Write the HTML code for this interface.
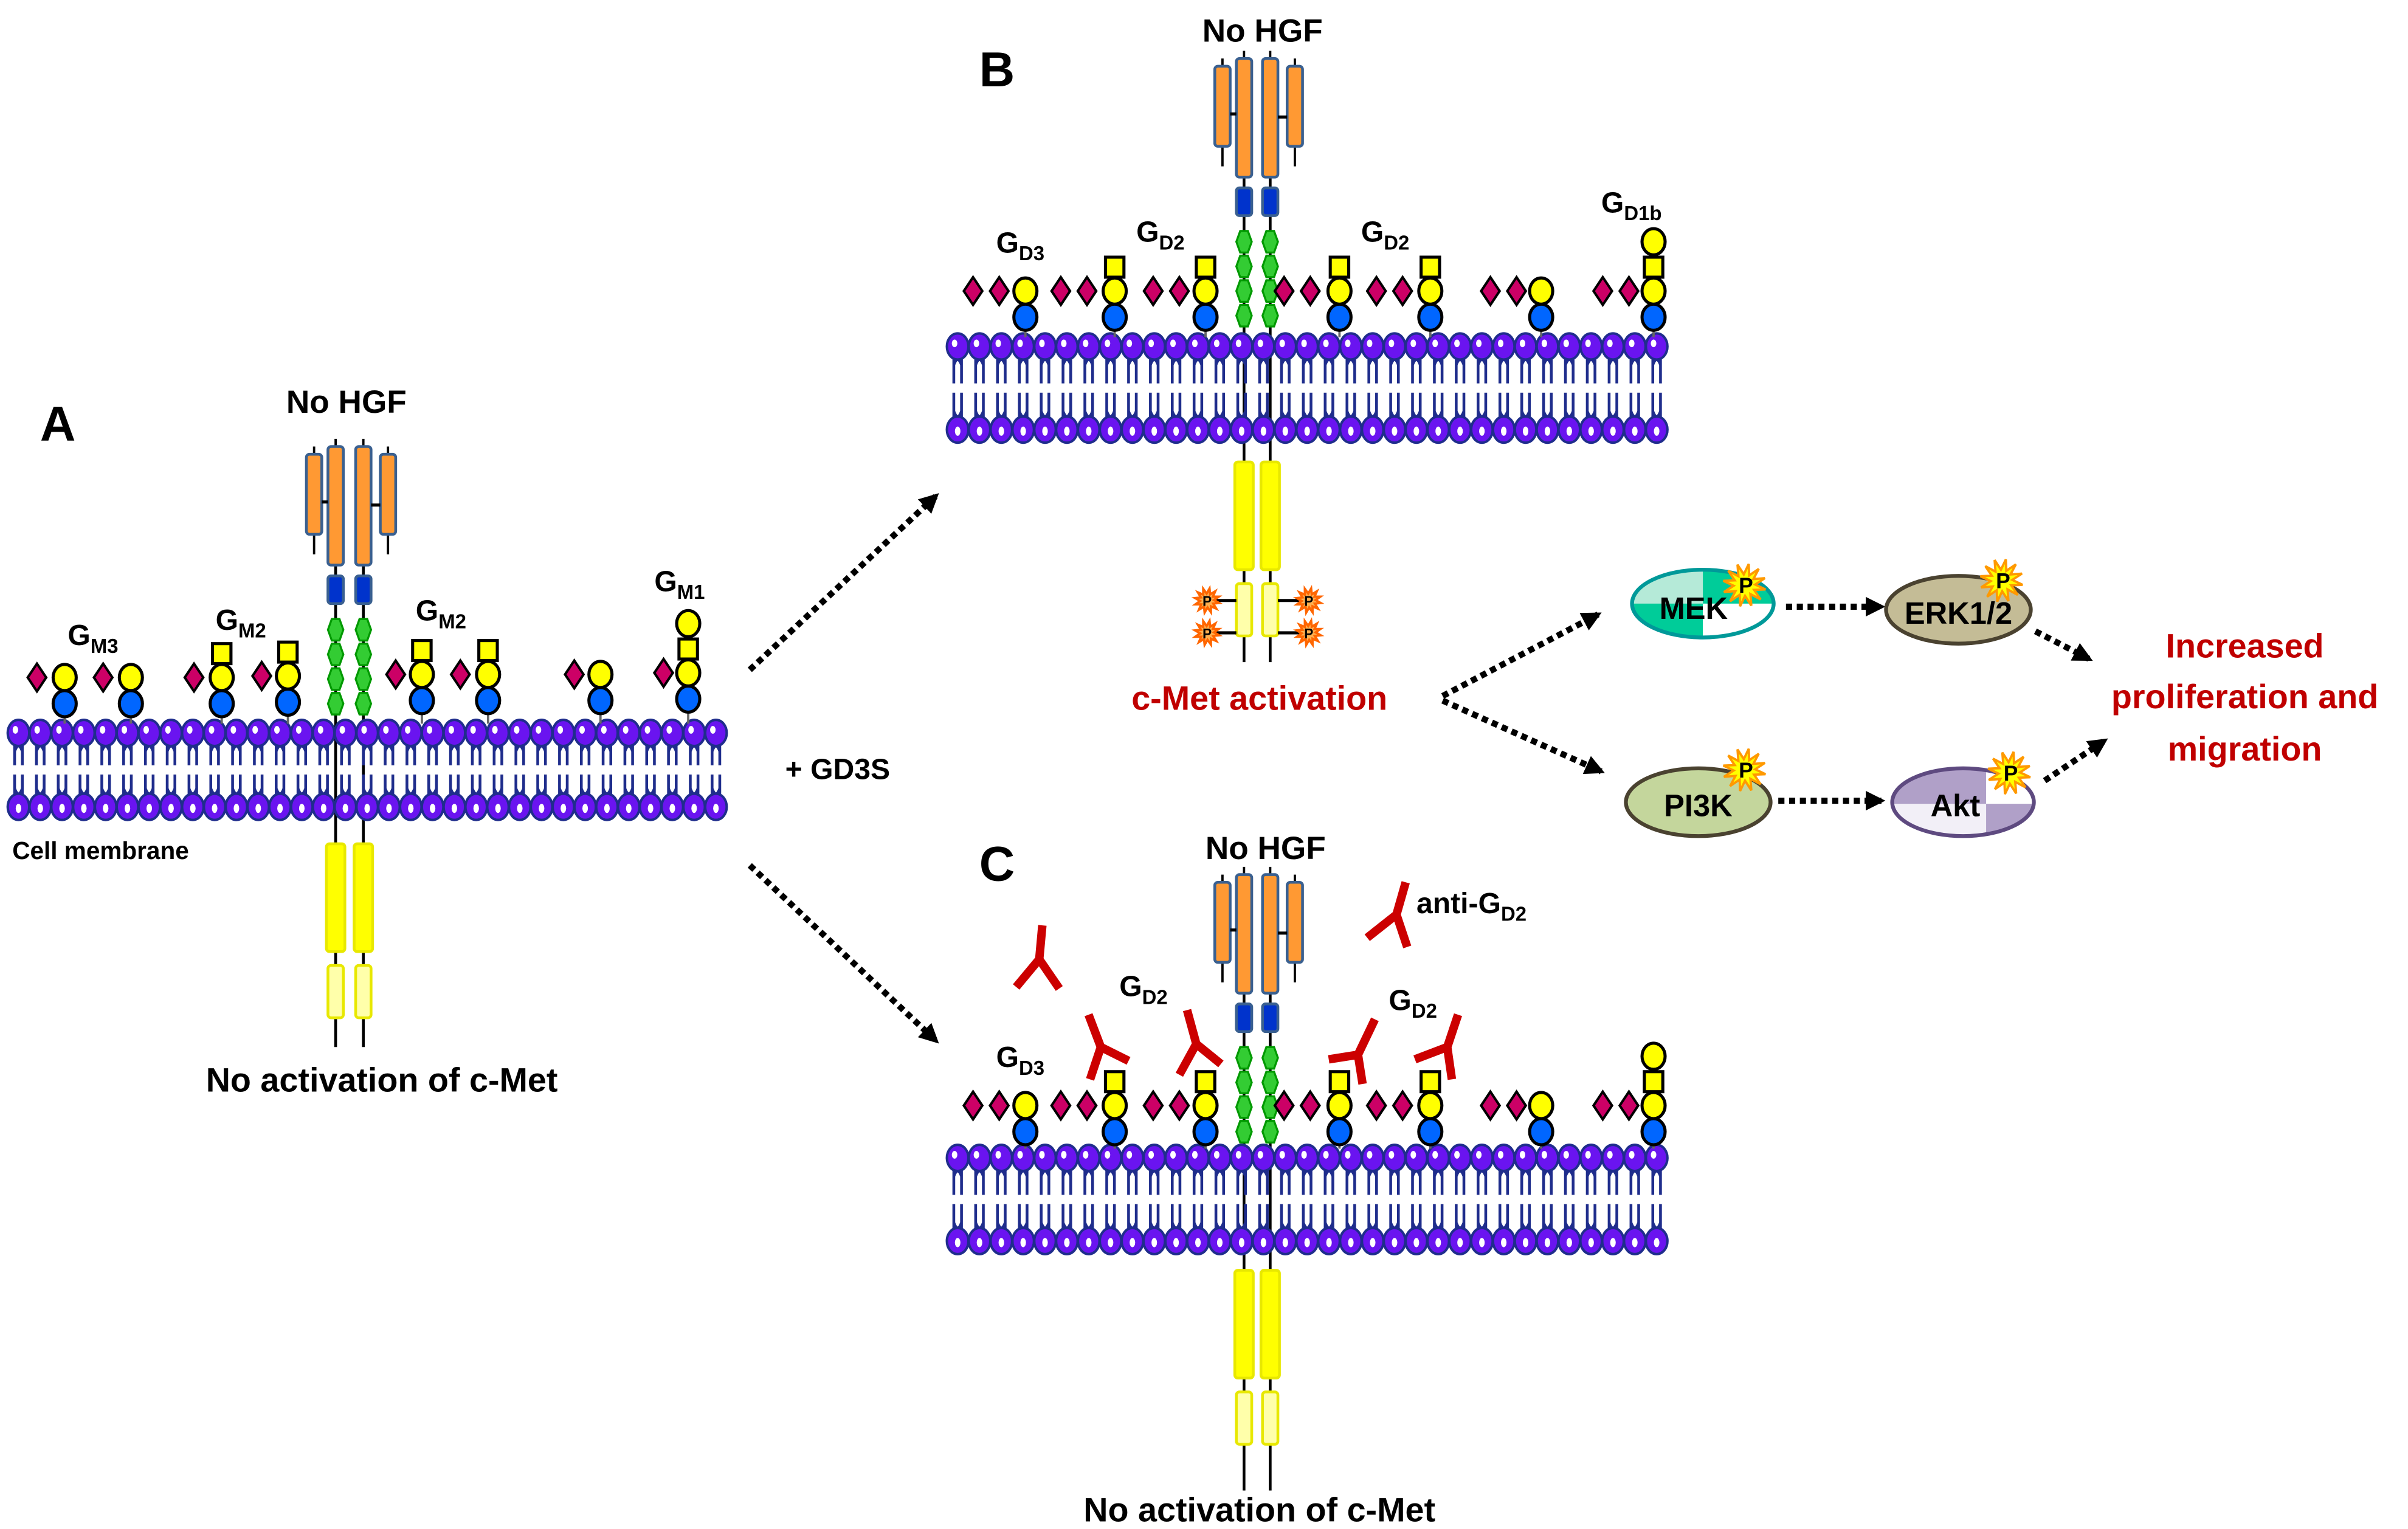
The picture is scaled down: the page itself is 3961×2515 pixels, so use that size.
<!DOCTYPE html>
<html><head><meta charset="utf-8">
<style>
html,body{margin:0;padding:0;background:#fff;}
svg{display:block;}
text{font-family:"Liberation Sans",sans-serif;font-weight:bold;}
</style></head>
<body>
<svg id="s" xmlns="http://www.w3.org/2000/svg" width="3961" height="2515" viewBox="0 0 1564 993">
<defs>
<marker id="ah" viewBox="0 0 10 10" refX="8" refY="5" markerWidth="3.2" markerHeight="3.2" orient="auto"><path d="M0,0 L10,5 L0,10 z" fill="#000"/></marker>
</defs>
<g id="shapes"></g>
<text x="26" y="286" font-size="32">A</text>
<text x="225" y="268" font-size="21" text-anchor="middle">No HGF</text>
<text x="8" y="558" font-size="16">Cell membrane</text>
<text x="248" y="709" font-size="22" text-anchor="middle">No activation of c-Met</text>
<text x="44" y="419" font-size="19">G<tspan font-size="13" dy="5">M3</tspan></text>
<text x="140" y="409" font-size="19">G<tspan font-size="13" dy="5">M2</tspan></text>
<text x="270" y="403" font-size="19">G<tspan font-size="13" dy="5">M2</tspan></text>
<text x="425" y="384" font-size="19">G<tspan font-size="13" dy="5">M1</tspan></text>
<text x="510" y="506" font-size="19">+ GD3S</text>

<text x="636" y="56" font-size="32">B</text>
<text x="820" y="27" font-size="21" text-anchor="middle">No HGF</text>
<text x="647" y="164" font-size="19">G<tspan font-size="13" dy="5">D3</tspan></text>
<text x="738" y="157" font-size="19">G<tspan font-size="13" dy="5">D2</tspan></text>
<text x="884" y="157" font-size="19">G<tspan font-size="13" dy="5">D2</tspan></text>
<text x="1040" y="138" font-size="19">G<tspan font-size="13" dy="5">D1b</tspan></text>
<text x="818" y="461" font-size="22" text-anchor="middle" fill="#c00000">c-Met activation</text>

<text x="636" y="572" font-size="32">C</text>
<text x="822" y="558" font-size="21" text-anchor="middle">No HGF</text>
<text x="647" y="693" font-size="19">G<tspan font-size="13" dy="5">D3</tspan></text>
<text x="727" y="647" font-size="19">G<tspan font-size="13" dy="5">D2</tspan></text>
<text x="902" y="656" font-size="19">G<tspan font-size="13" dy="5">D2</tspan></text>
<text x="920" y="593" font-size="19">anti-G<tspan font-size="13" dy="5">D2</tspan></text>
<text x="818" y="988" font-size="22" text-anchor="middle">No activation of c-Met</text>

<text x="1458" y="427" font-size="22" text-anchor="middle" fill="#c00000">Increased</text>
<text x="1458" y="460" font-size="22" text-anchor="middle" fill="#c00000">proliferation and</text>
<text x="1458" y="494" font-size="22" text-anchor="middle" fill="#c00000">migration</text>
<g id="top"></g>
</svg>
<script>
var NS="http://www.w3.org/2000/svg";
var G=document.getElementById("shapes");
var T=document.getElementById("top");
function el(tag,a,p){var e=document.createElementNS(NS,tag);for(var k in a)e.setAttribute(k,a[k]);(p||G).appendChild(e);return e;}
function line(x1,y1,x2,y2,c,w,extra){var a={x1:x1,y1:y1,x2:x2,y2:y2,stroke:c||"#000","stroke-width":w||2};for(var k in extra)a[k]=extra[k];return el("line",a);}
function membrane(x0,x1,yt,yb,n){
  var st=(x1-x0)/(n-1), ym=(yt+yb)/2;
  for(var i=0;i<n;i++){var x=x0+i*st;
    el("path",{d:"M"+(x-2.5)+","+(yt+7)+" L"+(x-2.5)+","+(ym-3)+" M"+(x+2.5)+","+(yt+7)+" L"+(x+2.5)+","+(ym-3)+" M"+(x-2.5)+","+(yt+12)+" Q"+x+","+(yt+5)+" "+(x+2.5)+","+(yt+12),fill:"none",stroke:"#1f2d8c","stroke-width":1.8});
    el("path",{d:"M"+(x-2.5)+","+(ym+3)+" L"+(x-2.5)+","+(yb-7)+" M"+(x+2.5)+","+(ym+3)+" L"+(x+2.5)+","+(yb-7)+" M"+(x-2.5)+","+(yb-12)+" Q"+x+","+(yb-5)+" "+(x+2.5)+","+(yb-12),fill:"none",stroke:"#1f2d8c","stroke-width":1.8});
    el("ellipse",{cx:x,cy:yt,rx:7,ry:8.5,fill:"#6a14f0",stroke:"#1f2d8c","stroke-width":1.6});
    el("ellipse",{cx:x-2,cy:yt-2,rx:1.8,ry:2.5,fill:"#fff"});
    el("ellipse",{cx:x,cy:yb,rx:7,ry:8.5,fill:"#6a14f0",stroke:"#1f2d8c","stroke-width":1.6});
    el("ellipse",{cx:x,cy:yb+1,rx:1.8,ry:3,fill:"#fff"});
  }
}
function diamond(x,y){el("polygon",{points:(x-6)+","+y+" "+x+","+(y-9)+" "+(x+6)+","+y+" "+x+","+(y+9),fill:"#cc0066",stroke:"#000","stroke-width":1.6});}
function circ(x,y,f){el("ellipse",{cx:x,cy:y,rx:7.5,ry:8.5,fill:f,stroke:"#000","stroke-width":2});}
function sq(x,y){el("rect",{x:x-6,y:y-7,width:12,height:13,fill:"#ffff00",stroke:"#000","stroke-width":2});}
function gly(x,yy,dia,square,topc,ymem){
  line(x,yy+17,x,ymem-6,"#666",1.5);
  circ(x,yy+17,"#0066ff");
  if(square){sq(x,yy-15); if(topc) circ(x,yy-32,"#ffff00");}
  dia.forEach(function(d){diamond(d,yy);});
  circ(x,yy,"#ffff00");
}
function hexa(x,y){el("polygon",{points:(x-2.5)+","+(y-7)+" "+(x+2.5)+","+(y-7)+" "+(x+5)+","+y+" "+(x+2.5)+","+(y+7)+" "+(x-2.5)+","+(y+7)+" "+(x-5)+","+y,fill:"#33cc33",stroke:"#009900","stroke-width":1.3});}
function rrect(x,y,w,h,f,s){el("rect",{x:x,y:y,width:w,height:h,rx:2,fill:f,stroke:s,"stroke-width":1.8});}
function star(cx,cy,r1,r2,n,f,s,p){var pts=[];for(var i=0;i<2*n;i++){var r=i%2?r2:r1,a=Math.PI*i/n-Math.PI/2+0.2;pts.push((cx+r*Math.cos(a)).toFixed(1)+","+(cy+r*Math.sin(a)).toFixed(1));}el("polygon",{points:pts.join(" "),fill:f,stroke:s,"stroke-width":1.5},p);}
function receptor(lx,rx,yo,yBot){
  line(lx,yo+60,lx,yBot,"#000",1.8); line(rx,yo+60,rx,yBot,"#000",1.8);
  line(lx-14,yo,lx-14,yo+70,"#000",1.5); line(rx+16,yo,rx+16,yo+70,"#000",1.5);
  line(lx,yo-5,lx,yo+80,"#000",1.5); line(rx,yo-5,rx,yo+80,"#000",1.5);
  rrect(lx-19,yo+5,10,52,"#ff9933","#3a6090");
  rrect(lx-5,yo,10,77,"#ff9933","#3a6090");
  rrect(rx-5,yo,10,77,"#ff9933","#3a6090");
  rrect(rx+11,yo+5,10,52,"#ff9933","#3a6090");
  line(lx-9,yo+36,lx-5,yo+36,"#000",2); line(rx+5,yo+38,rx+11,yo+38,"#000",2);
  rrect(lx-5,yo+84,10,18,"#0033cc","#3a6090");
  rrect(rx-5,yo+84,10,18,"#0033cc","#3a6090");
  for(var i=0;i<4;i++){hexa(lx,yo+119+i*16);hexa(rx,yo+119+i*16);}
}
function intracell(lx,rx,y,active){
  rrect(lx-6,y,12,70,"#ffff00","#e8e800");
  rrect(rx-6,y,12,70,"#ffff00","#e8e800");
  rrect(lx-5,y+79,10,34,"#ffffaa","#e8e800");
  rrect(rx-5,y+79,10,34,"#ffffaa","#e8e800");
  if(active){
    [[lx-24,y+90],[lx-24,y+111],[rx+25,y+90],[rx+25,y+111]].forEach(function(p){
      line(p[0],p[1],p[0]<lx?lx-5:rx+5,p[1],"#000",2);
      star(p[0],p[1],8,4.5,12,"#ffb050","#ff6600");
      el("text",{x:p[0],y:p[1]+3.5,"font-size":9,"text-anchor":"middle"}).textContent="P";
    });
  }
}
function ab(t,f,l,r){
  el("path",{d:"M"+t+" L"+f+" L"+l+" M"+f+" L"+r,fill:"none",stroke:"#cc0000","stroke-width":5.5,"stroke-linejoin":"miter"},T);
}
function dots(x1,y1,x2,y2){line(x1,y1,x2,y2,"#000",4,{"stroke-dasharray":"4 3","marker-end":"url(#ah)"});}

// Panel A
receptor(218,236,290,680);
membrane(12,465,476,524,33);
intracell(218,236,548,false);
var yA=440,mA=476;
gly(42,yA,[24],false,false,mA);
gly(85,yA,[67],false,false,mA);
gly(144,yA,[126],true,false,mA);
gly(187,yA-1,[170],true,false,mA);
gly(274,yA-2,[257],true,false,mA);
gly(317,yA-2,[299],true,false,mA);
gly(390,yA-2,[373],false,false,mA);
gly(447,yA-3,[431],true,true,mA);

// Panel B
receptor(808,825,38,430);
membrane(622,1076,225,279,33);
intracell(808,825,300,true);
var yB=189,mB=225;
gly(666,yB,[632,649],false,false,mB);
gly(724,yB,[689,706],true,false,mB);
gly(783,yB,[749,766],true,false,mB);
gly(870,yB,[834,851],true,false,mB);
gly(929,yB,[894,911],true,false,mB);
gly(1001,yB,[968,985],false,false,mB);
gly(1074,yB,[1041,1058],true,true,mB);

// Panel C
receptor(808,825,568,968);
membrane(622,1076,752,806,33);
intracell(808,825,825,false);
var yC=718,mC=752;
gly(666,yC,[632,649],false,false,mC);
gly(724,yC,[689,706],true,false,mC);
gly(783,yC,[749,766],true,false,mC);
gly(870,yC,[834,851],true,false,mC);
gly(929,yC,[894,911],true,false,mC);
gly(1001,yC,[968,985],false,false,mC);
gly(1074,yC,[1041,1058],true,true,mC);
ab("677,601","675,623","660,641","688,642");
ab("707,659","715,680","708,701","733,689");
ab("771,656","777,678","766,698","793,691");
ab("893,662","882,685","863,688","885,704");
ab("947,659","940,680","919,688","943,701");
ab("913,573","907,594","888,609","914,615");

// arrows
dots(487,435,608,322);
dots(487,562,608,676);
dots(937,452,1038,399);
dots(937,455,1040,501);
dots(1160,394,1222,394);
dots(1155,520,1222,520);
dots(1322,410,1357,428);
dots(1328,507,1367,481);

// pathway nodes
var P=T;
var cp=el("clipPath",{id:"cm"},P);el("ellipse",{cx:1106,cy:392,rx:46,ry:22},cp);
var g=el("g",{"clip-path":"url(#cm)"},P);
el("rect",{x:1058,y:368,width:96,height:50,fill:"#00cc99"},g);
el("rect",{x:1058,y:368,width:48,height:24,fill:"#b5ead8"},g);
el("rect",{x:1106,y:392,width:48,height:26,fill:"#fff"},g);
el("ellipse",{cx:1106,cy:392,rx:46,ry:22,fill:"none",stroke:"#009999","stroke-width":2.5},P);
el("text",{x:1100,y:402,"font-size":20,"text-anchor":"middle"},P).textContent="MEK";
el("ellipse",{cx:1272,cy:396,rx:47,ry:22,fill:"#c4bc96",stroke:"#4a4230","stroke-width":2.5},P);
el("text",{x:1272,y:405,"font-size":20,"text-anchor":"middle"},P).textContent="ERK1/2";
el("ellipse",{cx:1103,cy:521,rx:47,ry:22,fill:"#c4d69c",stroke:"#4a4230","stroke-width":2.5},P);
el("text",{x:1103,y:530,"font-size":20,"text-anchor":"middle"},P).textContent="PI3K";
var cp2=el("clipPath",{id:"ck"},P);el("ellipse",{cx:1275,cy:521,rx:46,ry:22},cp2);
var g2=el("g",{"clip-path":"url(#ck)"},P);
el("rect",{x:1228,y:498,width:96,height:48,fill:"#b0a0c8"},g2);
el("rect",{x:1228,y:522,width:62,height:24,fill:"#f2eff7"},g2);
el("rect",{x:1290,y:498,width:34,height:24,fill:"#fff"},g2);
el("ellipse",{cx:1275,cy:521,rx:46,ry:22,fill:"none",stroke:"#5e4a80","stroke-width":2.5},P);
el("text",{x:1270,y:530,"font-size":20,"text-anchor":"middle"},P).textContent="Akt";
[[1133,380],[1300,377],[1133,500],[1305,502]].forEach(function(p){
  star(p[0],p[1],14,7,12,"#ffff00","#ff9900",P);
  el("text",{x:p[0]+1,y:p[1]+5,"font-size":14,"text-anchor":"middle"},P).textContent="P";
});
</script>
</body></html>
